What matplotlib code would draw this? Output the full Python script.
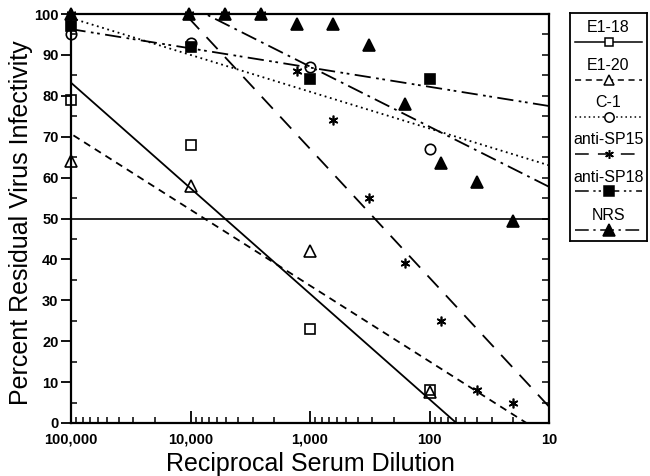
import numpy as np
import matplotlib
matplotlib.use("Agg")
import matplotlib.pyplot as plt
from matplotlib.ticker import FixedLocator, LogLocator, NullFormatter

plt.rcParams['font.family'] = ['Liberation Sans', 'DejaVu Sans']

# data (reciprocal dilution, % residual infectivity)
dil_4 = [100000, 10000, 1000, 100]
e1_18 = [79, 68, 23, 8]
e1_20 = [64, 58, 42, 7.5]
c_1 = [95, 93, 87, 67]
anti_sp18 = [97, 92, 84, 84]

dil_nrs = [100000, 10240, 5120, 2560, 1280, 640, 320, 160, 80, 40, 20]
nrs = [100, 100, 100, 100, 97.5, 97.5, 92.4, 78, 63.5, 59, 49.5]

# anti-SP15: the first four points sit at 100 % under the NRS triangles
dil_sp15 = [100000, 10240, 5120, 2560, 1280, 640, 320, 160, 80, 40, 20]
anti_sp15 = [100, 100, 100, 100, 86, 74, 55, 39, 25, 8, 5]

x_ticks = [100000, 10000, 1000, 100, 10]
x_ticklabels = ["100,000", "10,000", "1,000", "100", "10"]

series = [
    ("E1-18", dil_4, e1_18, "-", "s", "none"),
    ("E1-20", dil_4, e1_20, (0, (4, 3)), "^", "none"),
    ("C-1", dil_4, c_1, (0, (1, 2)), "o", "none"),
    ("anti-SP15", dil_sp15, anti_sp15, (0, (9, 6)), (6, 2, 0), "black"),
    ("anti-SP18", dil_4, anti_sp18, (0, (9, 3, 1.5, 2, 1.5, 3)), "s", "black"),
    ("NRS", dil_nrs, nrs, (0, (9, 3, 1.5, 3)), "^", "black"),
]
msizes = {"E1-18": 7, "E1-20": 8, "C-1": 7.5, "anti-SP15": 7, "anti-SP18": 7.5, "NRS": 9}

fig = plt.figure(figsize=(6.5, 4.76), dpi=100)
ax = fig.add_axes([71 / 650, 1 - 423 / 476, 478 / 650, 409 / 476])

xfit = np.logspace(1, 5, 200)
for i, (name, d, v, ls, mk, fc) in enumerate(series):
    # linear regression of response on log10 dilution
    b, a = np.polyfit(np.log10(d), v, 1)
    ax.plot(xfit, a + b * np.log10(xfit), color="black", lw=1.3, ls=ls, zorder=2)
for i, (name, d, v, ls, mk, fc) in enumerate(series):
    ax.plot(d, v, ls="none", marker=mk, ms=msizes[name], mfc=fc, mec="black",
            mew=1.2, color="black", zorder=3 + i, clip_on=False)

ax.axhline(50, color="black", lw=1.2, zorder=1)
ax.set_xscale("log")
ax.set_xlim(100000, 10)
ax.set_ylim(0, 100)
for s in ax.spines.values():
    s.set_linewidth(1.6)

ax.xaxis.set_major_locator(FixedLocator(x_ticks))
ax.set_xticklabels(x_ticklabels)
ax.xaxis.set_minor_locator(LogLocator(base=10, subs=np.arange(2, 10)))
ax.xaxis.set_minor_formatter(NullFormatter())
ax.tick_params(axis="x", which="major", direction="in", length=9, width=1.3, pad=7)
ax.tick_params(axis="x", which="minor", direction="in", length=4, width=1.1)

ax.set_yticks(np.arange(0, 101, 10))
ax.set_yticks(np.arange(5, 100, 10), minor=True)
ax.tick_params(axis="y", which="major", direction="out", length=7, width=1.3, pad=2)
ax.tick_params(axis="y", which="minor", direction="in", length=4, width=1.1)
for lab in ax.get_xticklabels() + ax.get_yticklabels():
    lab.set_fontsize(10.5)
    lab.set_fontweight("bold")

ax_r = ax.twinx()
ax_r.set_ylim(0, 100)
ax_r.set_yticks(np.arange(0, 101, 5))
ax_r.tick_params(axis="y", direction="in", length=5, width=1.1, labelright=False)
for s in ax_r.spines.values():
    s.set_visible(False)

ax.set_xlabel("Reciprocal Serum Dilution", fontsize=18)
ax.set_ylabel("Percent Residual Virus Infectivity", fontsize=18)
ax.xaxis.set_label_coords(0.5, -0.07)
ax.yaxis.set_label_coords(-0.08, 0.49)

# hand-made legend box: label above a line sample with its marker
lg = fig.add_axes([570 / 650, 1 - 241 / 476, 77 / 650, 228 / 476])
lg.set_xlim(0, 1)
lg.set_ylim(228, 0)
lg.set_xticks([])
lg.set_yticks([])
for s in lg.spines.values():
    s.set_linewidth(1.3)
label_y = [15, 53, 90, 127, 164, 203]
for (name, d, v, ls, mk, fc), ty in zip(series, label_y):
    lg.text(0.5, ty, name, ha="center", va="center", fontsize=11.5)
    lg.plot([0.06, 0.94], [ty + 14, ty + 14], color="black", lw=1.1, ls=ls)
    lg.plot([0.5], [ty + 14], ls="none", marker=mk, ms=msizes[name] * 0.9,
            mfc=fc if fc != "none" else "white", mec="black", mew=1.1)

fig.savefig("out.png", dpi=100)
